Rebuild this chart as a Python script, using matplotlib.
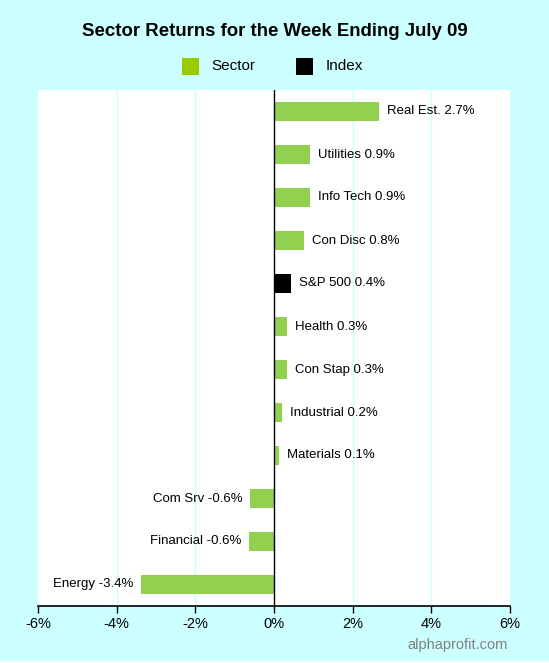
import matplotlib
matplotlib.use("Agg")
import matplotlib.pyplot as plt
from matplotlib.patches import Rectangle

categories = ["Real Est.", "Utilities", "Info Tech", "Con Disc", "S&P 500", "Health",
              "Con Stap", "Industrial", "Materials", "Com Srv", "Financial", "Energy"]
values = [2.67, 0.92, 0.91, 0.76, 0.43, 0.33, 0.33, 0.20, 0.13, -0.61, -0.64, -3.38]
labels = ["2.7%", "0.9%", "0.9%", "0.8%", "0.4%", "0.3%", "0.3%", "0.2%", "0.1%",
          "-0.6%", "-0.6%", "-3.4%"]
is_index = [False, False, False, False, True, False, False, False, False, False, False, False]
xticks = [-6, -4, -2, 0, 2, 4, 6]
xticklabels = ["-6%", "-4%", "-2%", "0%", "2%", "4%", "6%"]

plt.rcParams['font.family'] = ['Liberation Sans', 'DejaVu Sans']
BG = "#CCFFFF"
GREEN = "#92D050"

fig = plt.figure(figsize=(5.49, 6.63), dpi=100, facecolor=BG)
W, H = 549, 663
ax = fig.add_axes([38 / W, 1 - 606 / H, (510 - 38) / W, (606 - 90) / H])
ax.set_facecolor("white")

ypos = list(range(len(categories)))
colors = ["black" if i else GREEN for i in is_index]
ax.barh(ypos, values, height=0.42, color=colors, zorder=3)
ax.set_ylim(len(categories) - 0.5, -0.5)
ax.set_xlim(-6, 6)

for y, v, c, l in zip(ypos, values, categories, labels):
    txt = f"{c} {l}"
    off = 0.2
    if v >= 0:
        ax.text(v + off, y, txt, ha="left", va="center", fontsize=9.5, zorder=4)
    else:
        ax.text(v - off, y, txt, ha="right", va="center", fontsize=9.5, zorder=4)

ax.axvline(0, color="black", lw=1, zorder=4)
for t in [-4, -2, 2, 4]:
    ax.axvline(t, color="#CCFFFF", lw=1, zorder=1)

ax.set_xticks(xticks)
ax.set_xticklabels(xticklabels, fontsize=10.5)
ax.set_yticks([])
for s in ["top", "left", "right"]:
    ax.spines[s].set_visible(False)
ax.spines["bottom"].set_linewidth(1.2)
ax.tick_params(axis="x", length=5, width=1, pad=3)

fig.text(0.5, 1 - 32 / H, "Sector Returns for the Week Ending July 09", ha="center",
         va="center", fontsize=13.4, fontweight="bold")

# legend
fig.patches.append(Rectangle((182 / W, 1 - 75 / H), 17 / W, 17 / H, transform=fig.transFigure,
                             facecolor="#99CC00", edgecolor="none"))
fig.text(211 / W, 1 - 66 / H, "Sector", ha="left", va="center", fontsize=11)
fig.patches.append(Rectangle((296 / W, 1 - 75 / H), 17 / W, 17 / H, transform=fig.transFigure,
                             facecolor="black", edgecolor="none"))
fig.text(326 / W, 1 - 66 / H, "Index", ha="left", va="center", fontsize=11)

fig.text(508 / W, 1 - 645 / H, "alphaprofit.com", ha="right", va="center", fontsize=10.5,
         color="#808080")

# thin white strip at the very bottom
fig.patches.append(Rectangle((0, 0), 1, 2.5 / H, transform=fig.transFigure,
                             facecolor="white", edgecolor="none"))

fig.savefig("out.png", dpi=100, facecolor=BG)
